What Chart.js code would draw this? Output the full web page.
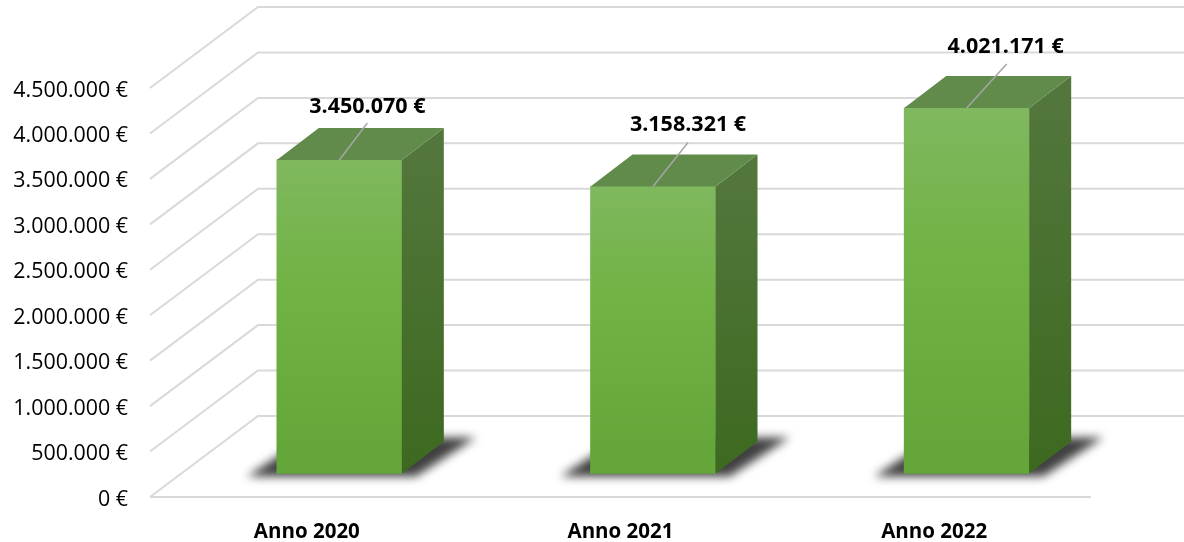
<!DOCTYPE html>
<html>
<head>
<meta charset="utf-8">
<title>Anno 2020-2022</title>
<script src="https://cdn.jsdelivr.net/npm/chart.js@4/dist/chart.umd.min.js"></script>
<style>
    html, body { margin: 0; padding: 0; background: #fff; }
    canvas { display: block; }
</style>
</head>
<body>
<canvas id="chartContainer" width="1184" height="542"></canvas>
<script>
// Values
const categories = ['Anno 2020', 'Anno 2021', 'Anno 2022'];
const totals = [3450070, 3158321, 4021171];

const FONT = '"Open Sans", sans-serif';

// 3D look: how far the walls and bars are pushed back
const wallDepth = { x: 108, y: -81 };
const barShift = { x: 32.5, y: -23.5 };
const barDepth = { x: 42, y: -32 };

// Leader line end, relative to the middle of the top edge of each bar
const leaderEnds = [[28, -37], [35, -44], [40, -44]];
const labelGaps = [[28, -53], [35, -62], [39, -61]];

function euro(value) {
    return String(value).replace(/\B(?=(\d{3})+$)/g, '.') + ' €';
}

function polygon(ctx, points, fill) {
    ctx.beginPath();
    points.forEach((p, i) => (i ? ctx.lineTo(p[0], p[1]) : ctx.moveTo(p[0], p[1])));
    ctx.closePath();
    ctx.fillStyle = fill;
    ctx.fill();
}

function frontGradient(context) {
    const chart = context.chart;
    if (!chart.chartArea) return '#6fb142';
    const top = chart.scales.y.getPixelForValue(context.raw) + barShift.y;
    const bottom = chart.scales.y.getPixelForValue(0) + barShift.y;
    const g = chart.ctx.createLinearGradient(0, top, 0, bottom);
    g.addColorStop(0, '#82b963');
    g.addColorStop(0.5, '#70b243');
    g.addColorStop(1, '#65a63a');
    return g;
}

// Floor, back wall and the diagonal lines between them
const wallPlugin = {
    id: 'wall',
    beforeDatasetsDraw(chart) {
        const { ctx, scales: { x, y } } = chart;
        ctx.save();
        ctx.strokeStyle = '#d9d9d9';
        ctx.lineWidth = 2;
        y.ticks.forEach(tick => {
            const py = y.getPixelForValue(tick.value);
            ctx.beginPath();
            ctx.moveTo(x.left, py);
            ctx.lineTo(x.left + wallDepth.x, py + wallDepth.y);
            ctx.lineTo(x.right + wallDepth.x, py + wallDepth.y);
            ctx.stroke();
        });
        // front edge of the floor
        const floor = y.getPixelForValue(0);
        ctx.beginPath();
        ctx.moveTo(x.left, floor);
        ctx.lineTo(x.right, floor);
        ctx.stroke();

        // soft shadow under each bar
        chart.getDatasetMeta(0).data.forEach(bar => {
            const half = bar.width / 2;
            const left = bar.x + barShift.x - half;
            const right = bar.x + barShift.x + half;
            const base = bar.base + barShift.y;
            ctx.save();
            ctx.filter = 'blur(5px)';
            polygon(ctx, [
                [left - 30, base + 3],
                [right + 14, base + 3],
                [right + 74, base - 36],
                [left + 30, base - 36]
            ], '#404040');
            ctx.restore();
        });
        ctx.restore();
    },
    beforeDatasetDraw(chart) {
        chart.ctx.save();
        chart.ctx.translate(barShift.x, barShift.y);
    },
    afterDatasetDraw(chart) {
        chart.ctx.restore();
    },
    // Side and top of the bars plus the value labels
    afterDatasetsDraw(chart) {
        const { ctx } = chart;
        ctx.save();
        chart.getDatasetMeta(0).data.forEach((bar, i) => {
            const half = bar.width / 2;
            const left = bar.x + barShift.x - half;
            const right = bar.x + barShift.x + half;
            const top = bar.y + barShift.y;
            const base = bar.base + barShift.y;

            const side = ctx.createLinearGradient(0, top, 0, base);
            side.addColorStop(0, '#52763b');
            side.addColorStop(1, '#3d691f');
            polygon(ctx, [
                [right, top],
                [right + barDepth.x, top + barDepth.y],
                [right + barDepth.x, base + barDepth.y],
                [right, base]
            ], side);
            polygon(ctx, [
                [left, top],
                [left + barDepth.x, top + barDepth.y],
                [right + barDepth.x, top + barDepth.y],
                [right, top]
            ], '#608b4b');

            const cx = bar.x + barShift.x;
            ctx.strokeStyle = '#a6a6a6';
            ctx.lineWidth = 1.5;
            ctx.beginPath();
            ctx.moveTo(cx, top);
            ctx.lineTo(cx + leaderEnds[i][0], top + leaderEnds[i][1]);
            ctx.stroke();

            ctx.fillStyle = '#000';
            ctx.font = 'bold 21.5px ' + FONT;
            ctx.textAlign = 'center';
            ctx.textBaseline = 'middle';
            ctx.fillText(euro(totals[i]), cx + labelGaps[i][0], top + labelGaps[i][1]);
        });
        ctx.restore();
    }
};

const ctx = document.getElementById('chartContainer').getContext('2d');
new Chart(ctx, {
    type: 'bar',
    data: {
        labels: categories,
        datasets: [{
            label: 'Totale',
            data: totals,
            backgroundColor: frontGradient,
            borderWidth: 0,
            barThickness: 125,
            clip: false
        }]
    },
    options: {
        responsive: false,
        animation: false,
        layout: { padding: { top: 88, right: 93, left: 0, bottom: 0 } },
        plugins: {
            legend: { display: false },
            tooltip: { enabled: false }
        },
        scales: {
            x: {
                grid: { display: false },
                border: { display: false },
                ticks: {
                    color: '#000',
                    padding: 15,
                    font: { family: FONT, size: 20.5, weight: 'bold' }
                },
                afterFit(scale) { scale.height = 45; }
            },
            y: {
                min: 0,
                max: 4500000,
                grid: { display: false },
                border: { display: false },
                ticks: {
                    stepSize: 500000,
                    color: '#000',
                    padding: 14,
                    labelOffset: 2.5,
                    font: { family: FONT, size: 21.4 },
                    callback: value => euro(value)
                },
                afterFit(scale) { scale.width = 150; }
            }
        }
    },
    plugins: [wallPlugin]
});
</script>
</body>
</html>
